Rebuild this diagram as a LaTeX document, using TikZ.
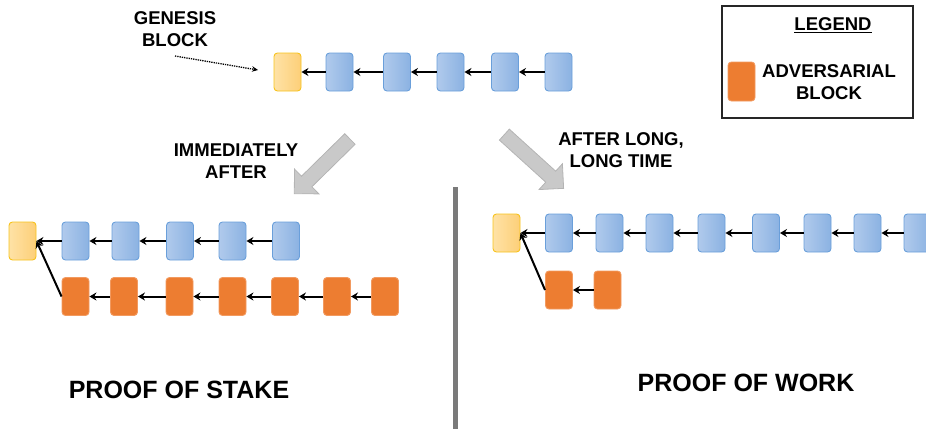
\documentclass[tikz,border=0pt]{standalone}
\usepackage{fontspec}
\setmainfont{Liberation Sans}
\usetikzlibrary{arrows.meta,shapes.arrows}
\definecolor{blueL}{HTML}{B0CAEC}
\definecolor{blueR}{HTML}{8BB2E2}
\definecolor{blueEdge}{HTML}{6A9FDA}
\definecolor{genL}{HTML}{FEE2A6}
\definecolor{genR}{HTML}{FDCF78}
\definecolor{genEdge}{HTML}{F7C31C}
\definecolor{advFill}{HTML}{ED7D31}
\definecolor{advEdge}{HTML}{F29A60}
\definecolor{arrowFill}{HTML}{C9C9C9}
\definecolor{arrowEdge}{HTML}{B4B4B4}
\definecolor{divider}{HTML}{7A7A7A}
\begin{document}
\begin{tikzpicture}[x=1pt,y=-1pt,
  blk/.style={rectangle, rounded corners=3.5pt, minimum width=27pt, minimum height=38pt, inner sep=0pt, line width=0.9pt},
  blueblk/.style={blk, draw=blueEdge, left color=blueL, right color=blueR},
  genblk/.style={blk, draw=genEdge, left color=genL, right color=genR},
  advblk/.style={blk, draw=advEdge, fill=advFill},
  link/.style={line width=2pt, -{Stealth[length=7pt,width=8pt]}},
  lbl/.style={font=\bfseries\fontsize{18.5}{22}\selectfont, align=center, inner sep=0pt},
  biglbl/.style={font=\bfseries\fontsize{25}{29}\selectfont, inner sep=0pt},
  bigarrow/.style={single arrow, draw=arrowEdge, fill=arrowFill, inner sep=7pt, single arrow head extend=10pt, line width=0.8pt, shape border uses incircle=false}
]
\useasboundingbox (0,0) rectangle (926,429);

% ---- top chain ----
\node[genblk]  (t0) at (287.5,72) {};
\node[blueblk] (t1) at (339.5,72) {};
\node[blueblk] (t2) at (397,72) {};
\node[blueblk] (t3) at (450.5,72) {};
\node[blueblk] (t4) at (505,72) {};
\node[blueblk] (t5) at (558.5,72) {};
\foreach \a/\b in {t1/t0,t2/t1,t3/t2,t4/t3,t5/t4} \draw[link] (\a.west) -- (\b.east);

\node[lbl] (genlbl) at (175,29) {GENESIS\\BLOCK};
\coordinate (gs) at (175,56);
\coordinate (ge) at (258,70);
\draw[densely dotted, line width=1.3pt, -{Stealth[length=6pt,width=5.5pt]}] (gs) -- (ge);

% ---- big gray arrows ----
\node[bigarrow, minimum height=78pt, rotate=224.5] (arrL) at (324.75,163.75) {};
\node[bigarrow, minimum height=80pt, rotate=-42.2] (arrR) at (531.25,159) {};
\node[lbl] (immed) at (236,161) {IMMEDIATELY\\AFTER};
\node[lbl] (longt) at (621,150) {AFTER LONG,\\LONG TIME};

% ---- proof of stake ----
\node[genblk]  (s0) at (22.5,241) {};
\node[blueblk] (s1) at (75.5,241) {};
\node[blueblk] (s2) at (125.5,241) {};
\node[blueblk] (s3) at (180,241) {};
\node[blueblk] (s4) at (232.5,241) {};
\node[blueblk] (s5) at (286,241) {};
\foreach \a/\b in {s1/s0,s2/s1,s3/s2,s4/s3,s5/s4} \draw[link] (\a.west) -- (\b.east);
\node[advblk] (a1) at (75.5,296.5) {};
\node[advblk] (a2) at (124,296.5) {};
\node[advblk] (a3) at (179.5,296.5) {};
\node[advblk] (a4) at (232.5,296.5) {};
\node[advblk] (a5) at (285,296.5) {};
\node[advblk] (a6) at (337,296.5) {};
\node[advblk] (a7) at (385,296.5) {};
\foreach \a/\b in {a2/a1,a3/a2,a4/a3,a5/a4,a6/a5,a7/a6} \draw[link] (\a.west) -- (\b.east);
\draw[link] (a1.west) -- (s0.east);
\node[biglbl] (pos) at (179,390) {PROOF OF STAKE};

% ---- divider ----
\coordinate (dtop) at (455.5,187);
\coordinate (dbot) at (455.5,429);
\draw[line width=4.5pt, draw=divider] (dtop) -- (dbot);

% ---- proof of work ----
\node[genblk]  (w0) at (506.5,233) {};
\node[blueblk] (w1) at (559,233) {};
\node[blueblk] (w2) at (609.5,233) {};
\node[blueblk] (w3) at (659.5,233) {};
\node[blueblk] (w4) at (711.5,233) {};
\node[blueblk] (w5) at (766,233) {};
\node[blueblk] (w6) at (817.5,233) {};
\node[blueblk] (w7) at (867.5,233) {};
\node[blueblk] (w8) at (917.5,233) {};
\foreach \a/\b in {w1/w0,w2/w1,w3/w2,w4/w3,w5/w4,w6/w5,w7/w6,w8/w7} \draw[link] (\a.west) -- (\b.east);
\node[advblk] (v1) at (559,290) {};
\node[advblk] (v2) at (607.5,290) {};
\draw[link] (v2.west) -- (v1.east);
\draw[link] (v1.west) -- (w0.east);
\node[biglbl] (pow) at (746,383) {PROOF OF WORK};

% ---- legend ----
\node[draw=black!85, line width=1.2pt, minimum width=191pt, minimum height=112pt, inner sep=0pt] (legend) at (817.5,62) {};
\node[lbl] (legt) at (833,25) {\underline{LEGEND}};
\node[advblk, minimum height=39pt] (legblk) at (741.5,81.5) {};
\node[lbl] (legtxt) at (829,82.5) {ADVERSARIAL\\BLOCK};
\end{tikzpicture}
\end{document}
